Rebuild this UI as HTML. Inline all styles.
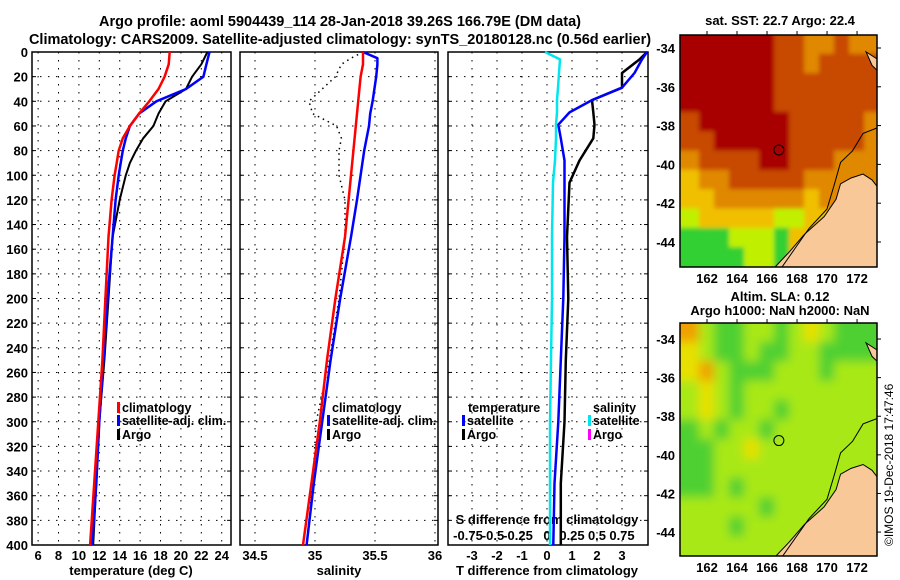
<!DOCTYPE html>
<html><head><meta charset="utf-8">
<style>
body{margin:0;background:#fff;}
svg{display:block;font-family:"Liberation Sans",Arial,sans-serif;font-weight:bold;}
</style></head>
<body>
<svg id="chart" width="900" height="580" viewBox="0 0 900 580" xmlns="http://www.w3.org/2000/svg">
<defs>
<filter id="blurS" x="0" y="0" width="1" height="1"><feGaussianBlur stdDeviation="2" edgeMode="duplicate"/></filter>
<filter id="blurL" x="0" y="0" width="1" height="1"><feGaussianBlur stdDeviation="5" edgeMode="duplicate"/></filter>
</defs>
<text x="340" y="26" font-size="14.5" text-anchor="middle">Argo profile: aoml 5904439_114 28-Jan-2018 39.26S 166.79E (DM data)</text>
<text x="340" y="44" font-size="14.5" text-anchor="middle">Climatology: CARS2009. Satellite-adjusted climatology: synTS_20180128.nc (0.56d earlier)</text>
<g id="g"></g>
<text x="780" y="25" font-size="13" text-anchor="middle">sat. SST: 22.7 Argo: 22.4</text>
<text x="780" y="301" font-size="13" text-anchor="middle">Altim. SLA: 0.12</text>
<text x="780" y="315" font-size="13" text-anchor="middle">Argo h1000: NaN h2000: NaN</text>
<text x="0" y="0" font-size="12" font-weight="normal" transform="translate(893,546) rotate(-90)">©IMOS 19-Dec-2018 17:47:46</text>
</svg>
<script>
// ---------- data ----------
const depthTicks=[0,20,40,60,80,100,120,140,160,180,200,220,240,260,280,300,320,340,360,380,400];
const tempTicks=[6,8,10,12,14,16,18,20,22,24];
const salTicks=[34.5,35,35.5,36];
const dTTicks=[-3,-2,-1,0,1,2,3];
const dSTickLabels=["-0.75","-0.5","-0.25","0","0.25","0.5","0.75"];
const dSTickVals=[-0.75,-0.5,-0.25,0,0.25,0.5,0.75];

const tDepth=[0,10,20,30,40,50,60,70,80,90,100,120,150,200,250,300,350,400];
const tClim=[18.9,18.8,18.4,17.8,16.9,15.9,15.0,14.3,13.9,13.7,13.5,13.2,12.9,12.6,12.3,11.9,11.5,11.1];
const tSat=[22.8,22.5,22.2,20.5,17.6,15.9,15.0,14.6,14.3,14.1,13.9,13.6,13.3,12.8,12.4,12.0,11.7,11.3];
const tArgo=[22.6,22.0,21.1,20.5,18.5,17.8,17.3,16.3,15.6,15.0,14.6,14.0,13.3,12.9,12.5,12.0,11.7,11.4];

const sDepth=[0,5,10,20,40,50,60,70,80,100,120,150,200,250,300,350,400];
const sClim=[35.40,35.40,35.40,35.38,35.36,35.35,35.34,35.33,35.32,35.30,35.28,35.25,35.17,35.10,35.04,34.97,34.90];
const sSat=[35.40,35.52,35.52,35.51,35.48,35.46,35.45,35.43,35.41,35.38,35.35,35.30,35.21,35.13,35.06,34.99,34.93];
const sArgo=[35.40,35.30,35.22,35.17,34.95,34.98,35.18,35.22,35.20,35.20,35.25,35.25,35.20,35.12,35.01,34.98,34.93];

const dDepth=[0,6,17,29,39,49,59,70,88,106,150,200,250,300,350,400];
const dTSat=[4.0,3.8,3.5,3.0,1.8,0.9,0.45,0.55,0.7,0.7,0.7,0.65,0.55,0.45,0.3,0.25];
const dTArgo=[4.0,3.7,3.0,3.0,1.8,1.85,1.9,1.85,1.3,0.9,0.8,0.85,0.75,0.7,0.55,0.55];
const dSSat=[-0.02,0.13,0.12,0.11,0.10,0.10,0.09,0.09,0.08,0.06,0.05,0.05,0.04,0.03,0.03,0.03];

const mapLons=[161,162,163,164,165,166,167,168,169,170,171,172,173];
const sstRows=[
"0000001122122","0000001121111","0000001111111","0000001111111",
"1000000111112","1100000111112","2111100111222","3221111122222",
"3322222232222","4333334433334","5554445333345","5555445333356"];
const slaRows=[
"2455445434555","3455455445555","3245554445444","4345444444444",
"4345445444444","5454454444444","5544344444444","5544444444444",
"5545444444444","4444454444444","4445444444444","4444444444444"];
const floatLon=166.79, floatLat=-39.26;

// ---------- drawing ----------
const NS="http://www.w3.org/2000/svg";
const G=document.getElementById('g');
function mk(tag,attrs,parent){const e=document.createElementNS(NS,tag);for(const k in attrs)e.setAttribute(k,attrs[k]);(parent||G).appendChild(e);return e;}
const y0=52,y1=545;
const yD=d=>y0+(d/400)*(y1-y0);
const xT=v=>32+(v-5.4)*10.2;
const xS=v=>255+(v-34.5)*120;
const xDT=v=>547+v*25;
const xDS=v=>547+v*100;
const panels=[[32,231],[240,438],[448,648]];

panels.forEach((p,i)=>{
  const fr=mk('rect',{x:p[0],y:y0,width:p[1]-p[0],height:y1-y0,fill:'none',stroke:'#000','stroke-width':1.5});
  
  
  depthTicks.forEach(d=>{
    const l=mk('line',{x1:p[0],x2:p[1],y1:yD(d),y2:yD(d),stroke:'#000','stroke-width':1,'stroke-dasharray':'1.5,6.5'});
    
    
    mk('line',{x1:p[0],x2:p[0]+4,y1:yD(d),y2:yD(d),stroke:'#000'});
    mk('line',{x1:p[1]-4,x2:p[1],y1:yD(d),y2:yD(d),stroke:'#000'});
  });
});
depthTicks.forEach(d=>{
  const t=mk('text',{x:28,y:yD(d)+5,'font-size':13,'text-anchor':'end'});
  t.textContent=d;
  
  
});
function vgrid(ticks,fx,p,labels){
  ticks.forEach((v,i)=>{
    const x=fx(v);
    const l=mk('line',{x1:x,x2:x,y1:y0,y2:y1,stroke:'#000','stroke-dasharray':'1.5,6.5'});
    
    
    const t=mk('text',{x:x,y:560,'font-size':13,'text-anchor':'middle'});
    t.textContent=labels?labels[i]:v;
    
    
  });
}
vgrid(tempTicks,xT);
vgrid(salTicks,xS);
vgrid(dTTicks,xDT);
[["temperature (deg C)",131,'temperature-axis-title'],["salinity",339,'salinity-axis-title'],["T difference from climatology",547,'t-difference-axis-title']].forEach(a=>{
  const t=mk('text',{x:a[1],y:575,'font-size':13,'text-anchor':'middle'});t.textContent=a[0];
  
  
});
{const t=mk('text',{x:547,y:524,'font-size':13,'text-anchor':'middle'});t.textContent="S difference from climatology";

}
dSTickVals.forEach((v,i)=>{
  const t=mk('text',{x:xDS(v)-(v<0?4:0),y:540,'font-size':13,'text-anchor':'middle'});t.textContent=dSTickLabels[i];
  
  
});

function line(xs,ds,fx,color,w,name,dash){
  const pts=xs.map((v,i)=>fx(v).toFixed(1)+','+yD(ds[i]).toFixed(1)).join(' ');
  const a={points:pts,fill:'none',stroke:color,'stroke-width':w,'stroke-linejoin':'round'};
  if(dash)a['stroke-dasharray']=dash;
  const e=mk('polyline',a);
  
  
}
line(tArgo,tDepth,xT,'#000',2,'temp-argo-line');
line(tSat,tDepth,xT,'#0000ff',2.5,'temp-satellite-line');
line(tClim,tDepth,xT,'#ff0000',2.5,'temp-climatology-line');
line(sArgo,sDepth,xS,'#000',1.5,'salinity-argo-line','1.5,4');
line(sSat,sDepth,xS,'#0000ff',2.5,'salinity-satellite-line');
line(sClim,sDepth,xS,'#ff0000',2.5,'salinity-climatology-line');
line(dSSat,dDepth,xDS,'#00e5ee',2.5,'sdiff-satellite-line');
line(dTArgo,dDepth,xDT,'#000',2.5,'tdiff-argo-line');
line(dTSat,dDepth,xDT,'#0000ff',2.5,'tdiff-satellite-line');

function legend(x,y,color,label,name){
  const r=mk('rect',{x:x,y:y-10,width:3,height:11,fill:color});
  
  
  const t=mk('text',{x:x+5,y:y,'font-size':12.5});t.textContent=label;
  
  
}
legend(117,412,'#ff0000','climatology','legend-climatology');
legend(117,425,'#0000ff','satellite-adj. clim.','legend-satellite');
legend(117,439,'#000','Argo','legend-argo');
legend(327,412,'#fff','climatology','legend-sal-climatology');
legend(327,425,'#0000ff','satellite-adj. clim.','legend-sal-satellite');
legend(327,439,'#000','Argo','legend-sal-argo');
{const t=mk('text',{x:468,y:412,'font-size':12.5});t.textContent='temperature';

const t2=mk('text',{x:593,y:412,'font-size':12.5});t2.textContent='salinity';
}
legend(462,425,'#0000ff','satellite','legend-tdiff-satellite');
legend(462,439,'#000','Argo','legend-tdiff-argo');
legend(588,425,'#00e5ee','satellite','legend-sdiff-satellite');
legend(588,439,'#ff00ff','Argo','legend-sdiff-argo');

// ---------- maps ----------
const sstPalette=['#a80000','#c84800','#e08800','#f0c000','#c0f000','#30d030','#00c0b0'];
const slaPalette=['#e08800','#e08800','#f0a000','#e8e000','#a8e818','#50d030','#00c0b0'];
function drawMap(rows,top,bot,latTop,latBot,name,palette,filt){
  const L=680,R=877,lonL=160.2,lonR=173.33;
  const fx=lon=>L+(lon-lonL)/(lonR-lonL)*(R-L);
  const fy=lat=>top+(latTop-lat)/(latTop-latBot)*(bot-top);
  const clip='clip-'+name;
  const cp=mk('clipPath',{id:clip});mk('rect',{x:L,y:top,width:R-L,height:bot-top},cp);
  const outer=mk('g',{'clip-path':'url(#'+clip+')'});
  const g=mk('g',{filter:'url(#'+filt+')'},outer);
  
  
  const nR=rows.length;
  rows.forEach((row,ri)=>{
    const latA=latTop-ri*(latTop-latBot)/nR, latB=latTop-(ri+1)*(latTop-latBot)/nR;
    mapLons.forEach((lon,ci)=>{
      let x0=fx(lon-0.5), x1=fx(lon+0.5);
      if(ci===0)x0=L-10; if(ci===mapLons.length-1)x1=R+10;
      let ya=fy(latA), yb=fy(latB);
      if(ri===0)ya=top-10; if(ri===nR-1)yb=bot+10;
      const c=mk('rect',{x:x0-0.5,y:ya-0.5,width:x1-x0+1,height:yb-ya+1,fill:palette[+row[ci]]},g);
      
      
    });
  });
  const land=[[166.4,-45.4],[167.5,-44.5],[168.5,-43.6],[169.8,-42.7],[170.6,-41.8],[170.9,-41.0],[171.6,-40.7],[172.4,-40.5],[173.0,-40.8],[173.4,-41.2],[173.4,-45.4]];
  const lp=mk('polygon',{points:land.map(p=>fx(p[0])+','+fy(p[1])).join(' '),fill:'#f8c898',stroke:'#000','stroke-width':1},outer);
  
  const north=[[172.6,-34.2],[173.4,-34.6],[173.4,-35.2],[173.0,-34.9]];
  const np=mk('polygon',{points:north.map(p=>fx(p[0])+','+fy(p[1])).join(' '),fill:'#f8c898',stroke:'#000','stroke-width':1},outer);
  
  const shelf=[[166.9,-45.4],[168.8,-43.3],[170.0,-42.3],[170.5,-41.0],[170.9,-39.9],[171.7,-39.3],[172.4,-38.4],[173.4,-38.1]];
  const sp=mk('polyline',{points:shelf.map(p=>fx(p[0])+','+fy(p[1])).join(' '),fill:'none',stroke:'#000','stroke-width':1},outer);
  
  const fr=mk('rect',{x:L,y:top,width:R-L,height:bot-top,fill:'none',stroke:'#000','stroke-width':1.5});
  
  const circ=mk('circle',{cx:fx(floatLon),cy:fy(floatLat),r:5,fill:'none',stroke:'#000','stroke-width':1});
  
  [-34,-36,-38,-40,-42,-44].forEach(lat=>{
    mk('line',{x1:R,x2:R+4,y1:fy(lat),y2:fy(lat),stroke:'#000'});
    const t=mk('text',{x:L-5,y:fy(lat)+5,'font-size':13,'text-anchor':'end'});t.textContent=lat;
    
  });
  [162,164,166,168,170,172].forEach(lon=>{
    mk('line',{x1:fx(lon),x2:fx(lon),y1:top-4,y2:top,stroke:'#000'});
    const t=mk('text',{x:fx(lon),y:bot+16,'font-size':13,'text-anchor':'middle'});t.textContent=lon;
    
  });
}
drawMap(sstRows,35,267,-33.33,-45.29,'sst-map',sstPalette,'blurS');
drawMap(slaRows,323,556,-33.17,-45.24,'sla-map',slaPalette,'blurL');
</script>
</body></html>
